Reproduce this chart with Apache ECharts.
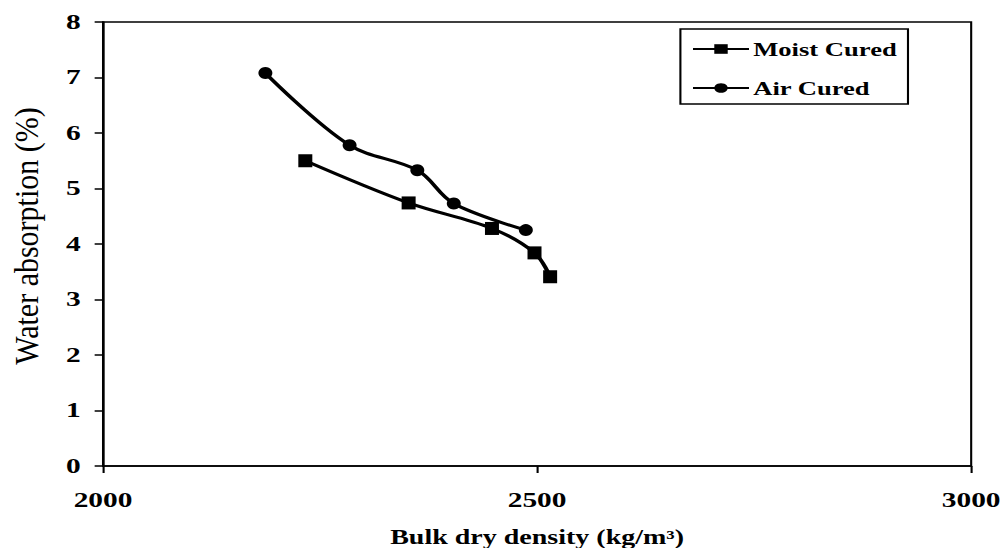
<!DOCTYPE html>
<html>
<head>
<meta charset="utf-8">
<script src="https://cdn.jsdelivr.net/npm/echarts@6/dist/echarts.min.js"></script>
<style>
html,body{margin:0;padding:0;background:#fff;overflow:hidden;}
#wrap{width:1005px;height:548px;overflow:hidden;}
#chart{width:718px;height:548px;transform:scaleX(1.4);transform-origin:0 0;}
</style>
</head>
<body>
<div id="wrap"><div id="chart"></div></div>
<script>
// Data
const seriesNames = ['Moist Cured', 'Air Cured'];
const moistDensity = [2233, 2352, 2448, 2497, 2515];
const moistAbsorption = [5.50, 4.74, 4.28, 3.84, 3.41];
const airDensity = [2187, 2284, 2362, 2404, 2487];
const airAbsorption = [7.08, 5.78, 5.33, 4.73, 4.25];
const xAxisTitle = 'Bulk dry density (kg/m³)';
const yAxisTitle = 'Water absorption (%)';

const FONT = 'Liberation Serif';
const pair = (xs, ys) => xs.map((x, i) => [x, ys[i]]);

const chart = echarts.init(document.getElementById('chart'), null, {renderer: 'svg'});
chart.setOption({
  animation: false,
  backgroundColor: '#fff',
  grid: {left: 73.6, right: 24.3, top: 22, bottom: 82, show: true, borderColor: '#000', borderWidth: 1.5,
         containLabel: false, outerBoundsMode: 'none'},
  legend: {
    orient: 'vertical', left: 486, top: 29,
    data: seriesNames,
    itemWidth: 40, itemHeight: 12, itemGap: 19,
    padding: [10, 8, 6, 8],
    borderColor: '#000', borderWidth: 1.5,
    textStyle: {fontFamily: FONT, fontWeight: 'bold', fontSize: 19, color: '#000', lineHeight: 20, padding: [0,0,0,-2]}
  },
  graphic: [{
    type: 'text',
    x: 19.3, y: 236,
    rotation: Math.PI / 2,
    scaleX: 1.25,
    style: {text: yAxisTitle, font: '24px "Liberation Serif"', fill: '#000', align: 'center', verticalAlign: 'middle'}
  }],
  xAxis: {
    type: 'value', min: 2000, max: 3000, interval: 500,
    name: xAxisTitle, nameLocation: 'middle', nameGap: 61, nameMoveOverlap: false,
    nameTextStyle: {fontFamily: FONT, fontWeight: 'bold', fontSize: 20, color: '#000'},
    axisLine: {show: true, lineStyle: {color: '#000', width: 1.5}},
    axisTick: {show: true, inside: false, length: 7, lineStyle: {color: '#000', width: 1.5}},
    axisLabel: {fontFamily: FONT, fontWeight: 'bold', fontSize: 21, color: '#000', margin: 24,
                formatter: v => String(v)},
    splitLine: {show: false}
  },
  yAxis: {
    type: 'value', min: 0, max: 8, interval: 1,
    axisLine: {show: true, lineStyle: {color: '#000', width: 1.5}},
    axisTick: {show: true, inside: false, length: 6, lineStyle: {color: '#000', width: 1.5}},
    axisLabel: {fontFamily: FONT, fontWeight: 'bold', fontSize: 21, color: '#000', margin: 16,
                formatter: v => String(v)},
    splitLine: {show: false}
  },
  series: [
    {
      name: seriesNames[0], type: 'line', smooth: 0.35,
      data: pair(moistDensity, moistAbsorption),
      symbol: 'rect', symbolSize: [10, 13],
      lineStyle: {color: '#000', width: 3},
      itemStyle: {color: '#000'}
    },
    {
      name: seriesNames[1], type: 'line', smooth: 0.35,
      data: pair(airDensity, airAbsorption),
      symbol: 'circle', symbolSize: [10, 12],
      lineStyle: {color: '#000', width: 3},
      itemStyle: {color: '#000'}
    }
  ]
});
</script>
</body>
</html>
